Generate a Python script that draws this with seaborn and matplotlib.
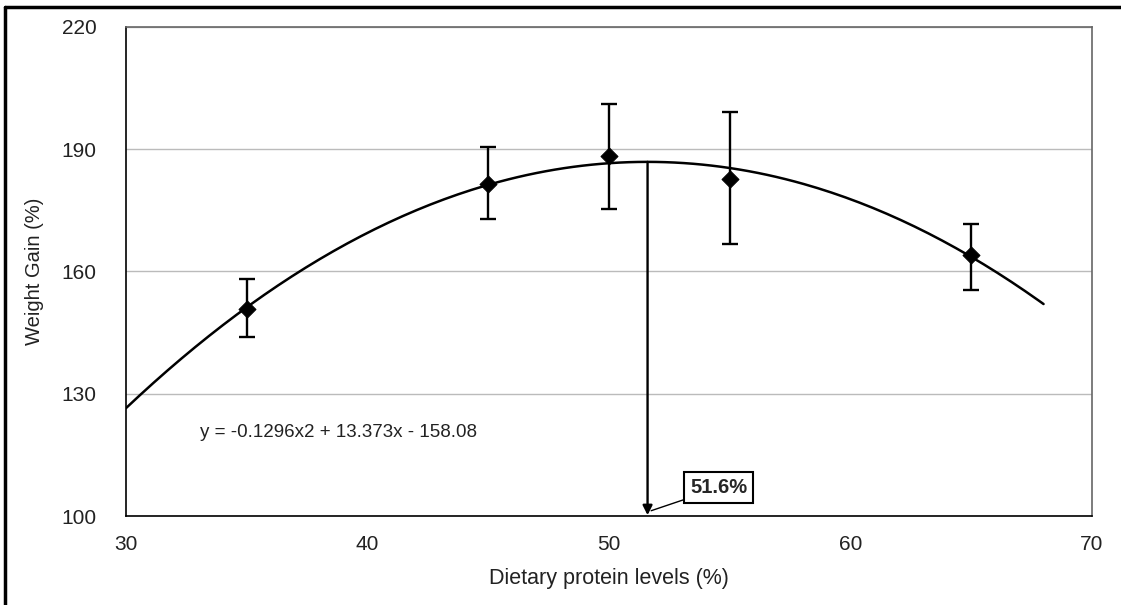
import numpy as np
import pandas as pd
import matplotlib
matplotlib.use("Agg")
import matplotlib.pyplot as plt
import seaborn as sns
from matplotlib.lines import Line2D

# Data
protein_levels = [35, 45, 50, 55, 65]
weight_gain = [150.7, 181.5, 188.3, 182.8, 164.0]
err_upper = [7.5, 9.1, 12.7, 16.4, 7.7]
err_lower = [6.8, 8.6, 13.0, 16.1, 8.5]

# Quadratic fit shown on the chart: y = a*x^2 + b*x + c
fit_coefs = [-0.1296, 13.373, -158.08]
fit_range = [30, 68]
optimum_level = 51.6

sns.set_style("white")
plt.rcParams['font.family'] = ['Liberation Sans', 'DejaVu Sans']

fig = plt.figure(figsize=(11.21, 6.05), dpi=100)
ax = fig.add_axes([0.1124, 0.1471, 0.8616, 0.8083])

# fitted curve
xs = np.linspace(fit_range[0], fit_range[1], 200)
curve = pd.DataFrame({"x": xs, "y": np.polyval(fit_coefs, xs)})
sns.lineplot(data=curve, x="x", y="y", color="black", lw=1.8, ax=ax, zorder=3)

# means with error bars
df = pd.DataFrame({"level": protein_levels, "gain": weight_gain})
ax.errorbar(protein_levels, weight_gain, yerr=[err_lower, err_upper], fmt="none",
            ecolor="black", elinewidth=1.7, capsize=5.5, capthick=1.7, zorder=4)
sns.scatterplot(data=df, x="level", y="gain", marker="D", s=75, color="black",
                edgecolor="black", ax=ax, zorder=5)

# arrow from curve maximum down to the axis
peak_y = np.polyval(fit_coefs, optimum_level)
ax.annotate("", xy=(optimum_level, 100.2), xytext=(optimum_level, peak_y),
            arrowprops=dict(arrowstyle="-|>", color="black", lw=1.7,
                            mutation_scale=14, shrinkA=0, shrinkB=0), zorder=4)
ax.annotate(f"{optimum_level}%", xy=(optimum_level + 0.15, 101.3), xytext=(54.55, 106.9),
            ha="center", va="center", fontsize=14.5, fontweight="bold",
            bbox=dict(boxstyle="square,pad=0.3", fc="white", ec="black", lw=1.5),
            arrowprops=dict(arrowstyle="-", color="black", lw=1.0, shrinkA=0, shrinkB=0))

ax.text(33.06, 120.4, "y = -0.1296x2 + 13.373x - 158.08", fontsize=13.5,
        ha="left", va="center", color="#222222")

ax.set_xlim(30, 70)
ax.set_ylim(100, 220)
ax.set_xticks([30, 40, 50, 60, 70])
ax.set_yticks([100, 130, 160, 190, 220])
ax.yaxis.grid(True, color="#bbbbbb", lw=1)
ax.set_axisbelow(True)
ax.tick_params(axis="both", direction="out", length=7, width=1, color="black",
               labelsize=15, colors="#222222")
ax.tick_params(axis="y", pad=14)
ax.tick_params(axis="x", pad=7)
for side in ["left", "bottom"]:
    ax.spines[side].set_color("black")
    ax.spines[side].set_linewidth(1.2)
for side in ["top", "right"]:
    ax.spines[side].set_color("#666666")
    ax.spines[side].set_linewidth(1.2)

ax.set_xlabel("Dietary protein levels (%)", fontsize=15.5, color="#222222", labelpad=10)
ax.set_ylabel("Weight Gain (%)", fontsize=14.5, color="#222222")
ax.yaxis.set_label_coords(-0.085, 0.5)

# outer frame around the picture
fig.add_artist(Line2D([0.0047, 0.0047], [0, 0.988], transform=fig.transFigure,
                      color="black", lw=2.5))
fig.add_artist(Line2D([0.0047, 1], [0.988, 0.988], transform=fig.transFigure,
                      color="black", lw=2.5))

fig.savefig("out.png", dpi=100)
